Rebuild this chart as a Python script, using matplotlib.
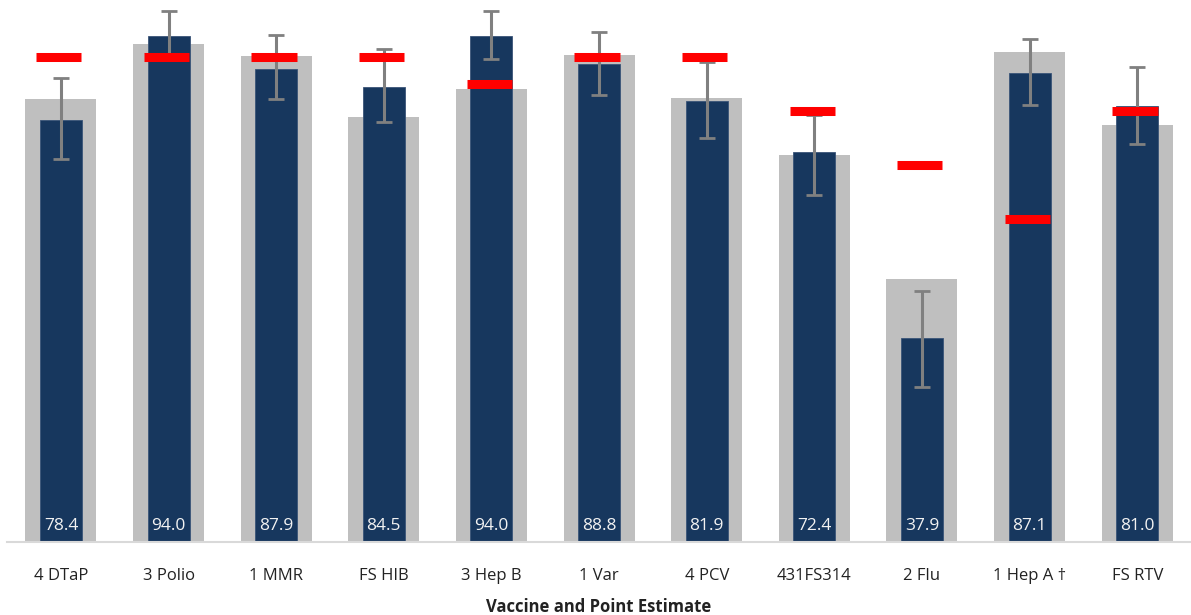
import numpy as np
import matplotlib.pyplot as plt

plt.rcParams["font.family"] = ["Open Sans", "DejaVu Sans"]

vaccines = ["4 DTaP", "3 Polio", "1 MMR", "FS HIB", "3 Hep B", "1 Var",
            "4 PCV", "431FS314", "2 Flu", "1 Hep A \u2020", "FS RTV"]
# point estimate (navy bars)
estimate = [78.4, 94.0, 87.9, 84.5, 94.0, 88.8, 81.9, 72.4, 37.9, 87.1, 81.0]
# comparison value (wide gray bars)
comparison = [82.3, 92.5, 90.2, 78.9, 84.1, 90.4, 82.4, 71.9, 48.8, 91.0, 77.4]
# targets (red dashes)
target = [90, 90, 90, 90, 85, 90, 90, 80, 70, 60, 80]
# confidence interval bounds
ci_low = [71.1, 89.6, 82.3, 78.0, 89.7, 83.0, 75.0, 64.4, 28.8, 81.1, 73.9]
ci_high = [86.2, 98.6, 94.1, 91.5, 98.6, 94.7, 89.1, 79.3, 46.6, 93.4, 88.2]

navy = "#17375e"
gray_bar = "#bfbfbf"

fig = plt.figure(figsize=(11.91, 6.15), dpi=100)
ax = fig.add_axes([0.006, 73 / 615, 0.994, 542 / 615])

x = np.arange(len(vaccines))
est = np.array(estimate)
yerr = np.array([est - np.array(ci_low), np.array(ci_high) - est])

ax.bar(x, comparison, width=0.66, color=gray_bar, zorder=1)
ax.bar(x, estimate, width=0.39, color=navy, edgecolor="#3a5478",
       linewidth=0.6, zorder=2)
ax.errorbar(x, estimate, yerr=yerr, fmt="none", ecolor="#808080",
            elinewidth=2.2, capsize=6, capthick=2, zorder=3)
ax.hlines(target, x - 0.23, x + 0.19, color="#ff0000", linewidth=6.5,
          zorder=4)

for xi, v in zip(x, estimate):
    ax.text(xi, 1.4, f"{v:.1f}", ha="center", va="bottom", color="#f2f2f2",
            fontsize=12.5, zorder=5)

ax.set_xlim(-0.5, len(vaccines) - 0.5)
ax.set_ylim(0, 100.65)
ax.set_yticks([])
ax.set_xticks(x)
ax.set_xticklabels(vaccines, fontsize=12, color="#222222")
ax.tick_params(axis="x", length=0, pad=19)
for side in ["top", "right", "left"]:
    ax.spines[side].set_visible(False)
ax.spines["bottom"].set_color("#d9d9d9")
ax.spines["bottom"].set_linewidth(1.5)
ax.set_xlabel("Vaccine and Point Estimate", fontsize=12, fontweight="bold",
              color="#222222", labelpad=10)

fig.savefig("out.png", dpi=100)
